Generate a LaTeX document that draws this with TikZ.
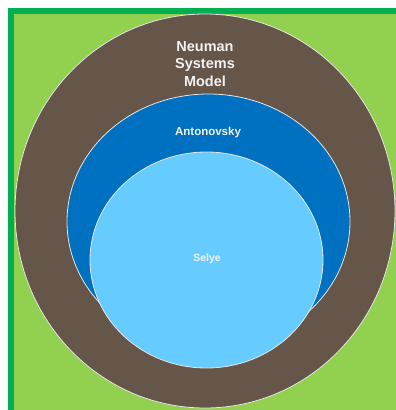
\documentclass[tikz,border=0pt]{standalone}
\usepackage{fontspec}
\setmainfont{Liberation Sans}
\usetikzlibrary{shapes.geometric}
\definecolor{framegreen}{HTML}{00B050}
\definecolor{fieldgreen}{HTML}{92D050}
\definecolor{nsmbrown}{HTML}{665549}
\definecolor{antblue}{HTML}{0070C0}
\definecolor{selyeblue}{HTML}{66CCFF}
\definecolor{labelgray}{HTML}{F2F2F2}
\begin{document}
\begin{tikzpicture}[x=1pt, y=-1pt,
  ring/.style = {ellipse, draw=white!90!black, line width=0.8pt, inner sep=0pt},
  lbl/.style = {text=labelgray, align=center, inner sep=0pt}]
\useasboundingbox (0,0) rectangle (396,410);
\clip (0,0) rectangle (396,410);
% Background field
\draw[framegreen, line width=5.5pt, fill=fieldgreen] (10.75,10.75) rectangle (430,440);

% Neuman Systems Model
\node[ring, fill=nsmbrown, minimum width=380pt, minimum height=394pt] (neuman) at (205,211) {};
% Antonovsky
\node[ring, fill=antblue, minimum width=283pt, minimum height=255pt] (antonovsky) at (208.5,221.5) {};
% Selye
\node[ring, fill=selyeblue, minimum width=233pt, minimum height=216pt] (selye) at (206.5,260) {};

% Labels
\node[lbl, font=\bfseries\fontsize{14.5}{17.5}\selectfont] (neumanlbl) at (205,64) {Neuman\\Systems\\Model};
\node[lbl, font=\bfseries\fontsize{11.5}{13}\selectfont] (antonovskylbl) at (208,133) {Antonovsky};
\node[lbl, font=\bfseries\fontsize{10.5}{12}\selectfont] (selyelbl) at (207,259) {Selye};
\end{tikzpicture}
\end{document}
